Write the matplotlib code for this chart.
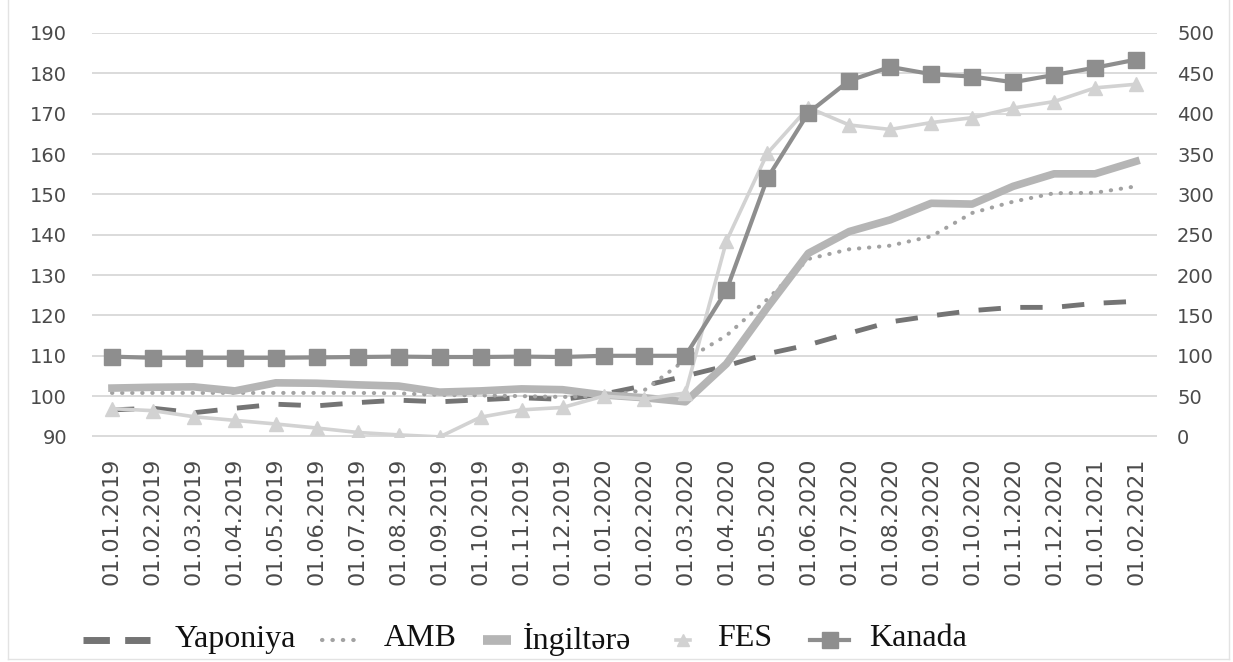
import matplotlib
matplotlib.use("Agg")
import matplotlib.pyplot as plt
from matplotlib import font_manager
from matplotlib.lines import Line2D

# ---------------- data ----------------
dates = ["01.01.2019", "01.02.2019", "01.03.2019", "01.04.2019", "01.05.2019",
         "01.06.2019", "01.07.2019", "01.08.2019", "01.09.2019", "01.10.2019",
         "01.11.2019", "01.12.2019", "01.01.2020", "01.02.2020", "01.03.2020",
         "01.04.2020", "01.05.2020", "01.06.2020", "01.07.2020", "01.08.2020",
         "01.09.2020", "01.10.2020", "01.11.2020", "01.12.2020", "01.01.2021",
         "01.02.2021"]

yaponiya = [96.6, 97.0, 95.9, 97.0, 98.0, 97.6, 98.4, 99.0, 98.6, 99.1, 99.6, 99.2,
            100.5, 102.6, 105.0, 107.5, 110.5, 112.7, 115.6, 118.4, 119.9, 121.2,
            122.0, 122.0, 123.0, 123.5]
amb = [100.8, 100.8, 100.8, 100.8, 100.8, 100.8, 100.8, 100.7, 100.3, 100.2, 100.0,
       99.8, 100.0, 101.5, 109.0, 115.0, 124.0, 134.0, 136.4, 137.3, 139.6, 145.4,
       148.2, 150.3, 150.4, 152.0]
ingiltere = [102.0, 102.2, 102.3, 101.3, 103.3, 103.2, 102.8, 102.5, 101.0, 101.3,
             101.8, 101.6, 100.3, 99.6, 98.6, 108.0, 122.0, 135.4, 140.8, 143.7,
             147.8, 147.6, 152.0, 155.1, 155.1, 158.2]
fes = [96.9, 96.4, 94.9, 94.0, 93.1, 92.1, 91.0, 90.4, 89.9, 94.8, 96.6, 97.2,
       100.0, 99.3, 100.8, 138.4, 160.2, 171.5, 167.2, 166.1, 167.8, 169.0, 171.4,
       173.0, 176.4, 177.3]
kanada = [99.0, 97.5, 97.5, 97.5, 97.5, 98.0, 98.5, 99.0, 98.5, 98.5, 99.0, 98.5,
          100.0, 100.0, 100.0, 181.0, 320.0, 401.0, 441.0, 458.0, 449.0, 446.0,
          439.0, 448.0, 457.0, 467.0]

left_ticks = [90, 100, 110, 120, 130, 140, 150, 160, 170, 180, 190]
right_ticks = [0, 50, 100, 150, 200, 250, 300, 350, 400, 450, 500]
legend_labels = ["Yaponiya", "AMB", "İngiltərə", "FES", "Kanada"]

# ---------------- styles ----------------
c_jap = "#747474"
c_amb = "#a2a2a2"
c_ing = "#b5b5b5"
c_fes = "#d2d2d2"
c_kan = "#8e8e8e"
tick_col = "#4a4a4a"

names = {f.name for f in font_manager.fontManager.ttflist}
if "Liberation Sans Narrow" in names:
    yfont, ysize = "Liberation Sans Narrow", 19
else:
    yfont, ysize = "DejaVu Sans", 14
serif = "Liberation Serif" if "Liberation Serif" in names else "DejaVu Serif"

W, H = 1233, 662
fig = plt.figure(figsize=(W / 100, H / 100), dpi=100)
fig.patch.set_facecolor("white")

x0, x1, ytop, ybot = 91.5, 1156.5, 33.0, 436.5
ax = fig.add_axes([x0 / W, 1 - ybot / H, (x1 - x0) / W, (ybot - ytop) / H])
ax2 = ax.twinx()

# series
ax.plot(dates, yaponiya, color=c_jap, lw=3.5, dashes=(4.6, 4.0), solid_capstyle="butt",
        dash_capstyle="butt", zorder=3)
ax.plot(dates, amb, color=c_amb, lw=2.9, dashes=(0.1, 2.4), dash_capstyle="round", zorder=3)
ax.plot(dates, ingiltere, color=c_ing, lw=5.5, solid_joinstyle="round", zorder=3)
ax.plot(dates, fes, color=c_fes, lw=2.6, marker="^", markersize=10, zorder=3)
ax2.plot(dates, kanada, color=c_kan, lw=3.0, marker="s", markersize=11, zorder=3)

ax.set_xlim(-0.5, len(dates) - 0.5)
ax.set_ylim(90, 190)
ax2.set_ylim(0, 500)
ax.set_yticks(left_ticks)
ax2.set_yticks(right_ticks)
ax.yaxis.grid(True, color="#dadada", lw=1.4)
ax.set_axisbelow(True)

for a in (ax, ax2):
    for s in a.spines.values():
        s.set_visible(False)
    a.patch.set_visible(False)

ax.tick_params(axis="y", length=0, pad=17.5, labelcolor=tick_col)
ax2.tick_params(axis="y", length=0, pad=14.8, labelcolor=tick_col)
for lab in ax.get_yticklabels() + ax2.get_yticklabels():
    lab.set_fontfamily(yfont)
    lab.set_fontsize(ysize)

ax.tick_params(axis="x", length=0, pad=15, labelcolor=tick_col)
ax.set_xticks(range(len(dates)))
ax.set_xticklabels(dates, rotation=90, fontsize=16, fontfamily="DejaVu Sans")

# ---------------- manual legend ----------------
def fx(px):
    return px / W

def fy(py):
    return 1 - py / H

ly = 640
fig.add_artist(Line2D([fx(83), fx(150)], [fy(ly), fy(ly)], color=c_jap, lw=5,
                      dashes=(3.8, 2.2), dash_capstyle="butt",
                      transform=fig.transFigure))
fig.add_artist(Line2D([fx(322), fx(358)], [fy(ly), fy(ly)], color=c_amb, lw=3,
                      dashes=(0.1, 2.4), dash_capstyle="round",
                      transform=fig.transFigure))
fig.add_artist(Line2D([fx(483), fx(511)], [fy(ly), fy(ly)], color=c_ing, lw=7,
                      solid_capstyle="butt", transform=fig.transFigure))
fig.add_artist(Line2D([fx(676), fx(690)], [fy(ly), fy(ly)], color=c_fes, lw=2.6,
                      transform=fig.transFigure))
fig.add_artist(Line2D([fx(683)], [fy(ly)], color=c_fes, marker="^", markersize=9,
                      lw=0, transform=fig.transFigure))
fig.add_artist(Line2D([fx(810), fx(849)], [fy(ly), fy(ly)], color=c_kan, lw=3,
                      transform=fig.transFigure))
fig.add_artist(Line2D([fx(829.5)], [fy(ly)], color=c_kan, marker="s", markersize=11,
                      lw=0, transform=fig.transFigure))

text_x = [175, 384, 523, 717, 869]
for lbl, tx in zip(legend_labels, text_x):
    fig.text(fx(tx), fy(ly - 1), lbl, fontfamily=serif, fontsize=23, color="#111111",
             ha="left", va="center")

# faint chart-area frame
frame_col = "#e3e3e3"
fig.add_artist(Line2D([fx(8), fx(8)], [fy(0), fy(659)], color=frame_col, lw=1,
                      transform=fig.transFigure))
fig.add_artist(Line2D([fx(1229), fx(1229)], [fy(0), fy(659)], color=frame_col, lw=1,
                      transform=fig.transFigure))
fig.add_artist(Line2D([fx(8), fx(1229)], [fy(659), fy(659)], color=frame_col, lw=1,
                      transform=fig.transFigure))

fig.savefig("out.png", dpi=100, facecolor="white")
